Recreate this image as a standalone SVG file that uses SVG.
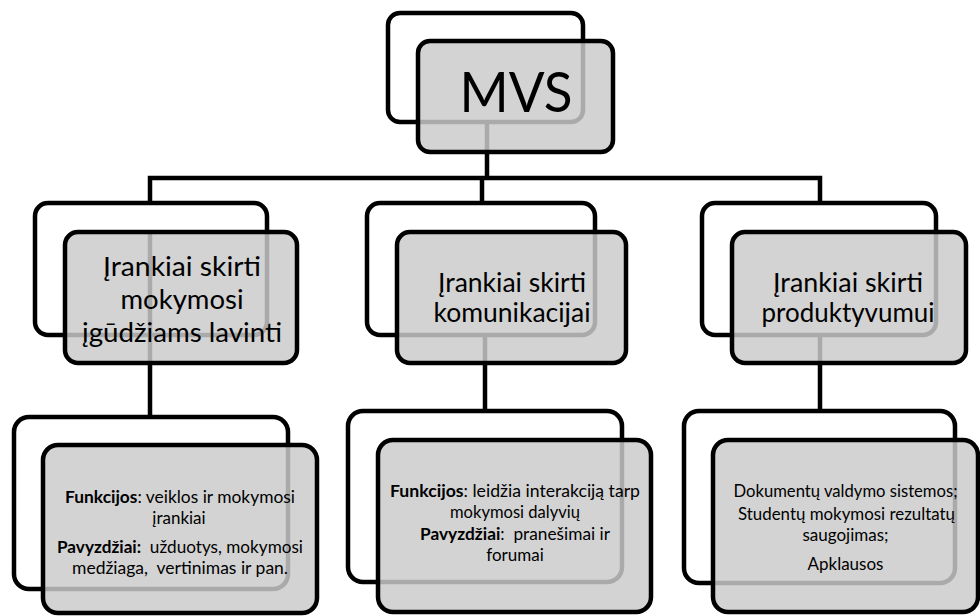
<svg xmlns="http://www.w3.org/2000/svg" width="980" height="616" viewBox="0 0 980 616">
  <style>
    .back { fill: none; stroke: #000; stroke-width: 4.5; }
    .front { fill: #cacaca; fill-opacity: 0.84; stroke: #000; stroke-width: 4.5; }
    .link { fill: none; stroke: #000; stroke-width: 4.5; }
    text { font-family: Lato, "Open Sans", sans-serif; fill: #000; text-anchor: middle; white-space: pre; }
    .t1 { font-size: 56px; }
    .t2 { font-size: 27.5px; }
    .t2s { font-size: 26.5px; }
    .t3 { font-size: 17px; }
    .b { font-weight: bold; }
  </style>
  <rect width="980" height="616" fill="#fff"/>

  <!-- connectors -->
  <g id="connectors">
    <path class="link" d="M487,122 V178"/>
    <path class="link" d="M150,203 V178 H820 V203"/>
    <path class="link" d="M482,178 V203"/>
    <path class="link" d="M150,232 V417"/>
    <path class="link" d="M485,335 V411"/>
    <path class="link" d="M820,335 V411"/>
  </g>

  <!-- root -->
  <g id="node-mvs">
    <rect class="back" x="388" y="13" width="195" height="109" rx="12"/>
    <rect class="front" x="418" y="41" width="195" height="111" rx="12"/>
    <text class="t1" x="516" y="112" textLength="113" lengthAdjust="spacingAndGlyphs">MVS</text>
  </g>

  <!-- second level -->
  <g id="node-mokymosi">
    <rect class="back" x="35" y="203" width="232" height="132" rx="13"/>
    <rect class="front" x="65" y="232" width="232" height="131" rx="13"/>
    <text class="t2" x="182" y="276" textLength="158" lengthAdjust="spacingAndGlyphs">Įrankiai skirti</text>
    <text class="t2" x="182" y="309">mokymosi</text>
    <text class="t2" x="182" y="342" textLength="200" lengthAdjust="spacingAndGlyphs">įgūdžiams lavinti</text>
  </g>
  <g id="node-komunikacijai">
    <rect class="back" x="367" y="203" width="228" height="132" rx="13"/>
    <rect class="front" x="397" y="232" width="229" height="131" rx="13"/>
    <text class="t2s" x="512" y="292">Įrankiai skirti</text>
    <text class="t2s" x="512" y="322">komunikacijai</text>
  </g>
  <g id="node-produktyvumui">
    <rect class="back" x="702" y="203" width="234" height="132" rx="13"/>
    <rect class="front" x="732" y="232" width="234" height="131" rx="13"/>
    <text class="t2s" x="848" y="292" textLength="150" lengthAdjust="spacingAndGlyphs">Įrankiai skirti</text>
    <text class="t2s" x="848" y="322" textLength="173" lengthAdjust="spacingAndGlyphs">produktyvumui</text>
  </g>

  <!-- third level -->
  <g id="node-funkcijos-mokymosi">
    <rect class="back" x="14" y="417" width="274" height="172" rx="15"/>
    <rect class="front" x="43" y="445" width="274" height="168" rx="15"/>
    <text class="t3" x="180" y="503" textLength="230" lengthAdjust="spacingAndGlyphs"><tspan class="b">Funkcijos</tspan>: veiklos ir mokymosi</text>
    <text class="t3" x="179" y="524">įrankiai</text>
    <text class="t3" x="180" y="553" textLength="246" lengthAdjust="spacingAndGlyphs"><tspan class="b">Pavyzdžiai:</tspan>  užduotys, mokymosi</text>
    <text class="t3" x="180" y="574" textLength="216" lengthAdjust="spacingAndGlyphs">medžiaga,  vertinimas ir pan.</text>
  </g>
  <g id="node-funkcijos-komunikacijai">
    <rect class="back" x="348" y="411" width="274" height="171" rx="15"/>
    <rect class="front" x="378" y="440" width="273" height="172" rx="15"/>
    <text class="t3" x="515" y="497" textLength="250" lengthAdjust="spacingAndGlyphs"><tspan class="b">Funkcijos</tspan>: leidžia interakciją tarp</text>
    <text class="t3" x="515" y="518" textLength="130" lengthAdjust="spacingAndGlyphs">mokymosi dalyvių</text>
    <text class="t3" x="515" y="540" textLength="190" lengthAdjust="spacingAndGlyphs"><tspan class="b">Pavyzdžiai</tspan>:  pranešimai ir</text>
    <text class="t3" x="515" y="561">forumai</text>
  </g>
  <g id="node-produktyvumo-irankiai">
    <rect class="back" x="684" y="411" width="271" height="172" rx="15"/>
    <rect class="front" x="713" y="440" width="265" height="172" rx="15"/>
    <text class="t3" x="845.5" y="497" textLength="224" lengthAdjust="spacingAndGlyphs">Dokumentų valdymo sistemos;</text>
    <text class="t3" x="846.5" y="520" textLength="217" lengthAdjust="spacingAndGlyphs">Studentų mokymosi rezultatų</text>
    <text class="t3" x="845.5" y="541">saugojimas;</text>
    <text class="t3" x="845.5" y="570">Apklausos</text>
  </g>
</svg>
